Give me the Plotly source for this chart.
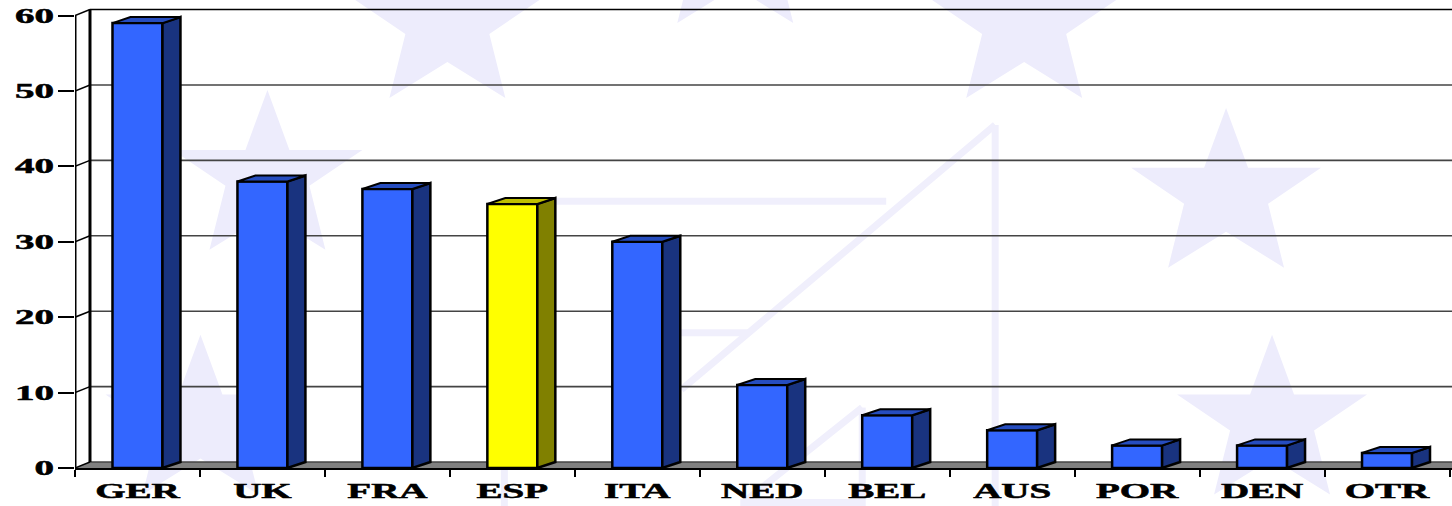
import plotly.graph_objects as go

# Chart values
categories = ["GER", "UK", "FRA", "ESP", "ITA", "NED", "BEL", "AUS", "POR", "DEN", "OTR"]
values = [59, 38, 37, 35, 30, 11, 7, 5, 3, 3, 2]
highlighted = "ESP"
y_ticks = [0, 10, 20, 30, 40, 50, 60]

# Face colours of the extruded columns: front, side, top
blue_faces = ("#3366ff", "#19337f", "#264dbf")
yellow_faces = ("#ffff00", "#808000", "#bfbf00")

# Page and plot geometry, in pixels
WIDTH, HEIGHT = 1452, 506
LEFT, BOTTOM, TOP = 74.5, 37.5, 7.95
CAT_PX = 125.0
UNIT_PX = 7.55
X_MIN, X_MAX = -0.5, (WIDTH - LEFT) / CAT_PX - 0.5
Y_MAX = 61

# Extrusion depth in axis units
WALL_DX = 15 / CAT_PX
BAR_DX = 18 / CAT_PX
DEPTH_DY = 6 / UNIT_PX
BAR_WIDTH = 0.4

plot_w = WIDTH - LEFT
plot_h = HEIGHT - TOP - BOTTOM


def px(x, y):
    """Page pixels to paper coordinates."""
    return (x - LEFT) / plot_w, (HEIGHT - BOTTOM - y) / plot_h


def poly_path(points):
    pts = [px(x, y) for x, y in points]
    return "M " + " L ".join(f"{a:.5f},{b:.5f}" for a, b in pts) + " Z"


# Pale watermark behind the chart: stars given as (centre x, tip y)
WATERMARK = "#edecfc"
stars = [(447, -62), (735, -137), (1024, -62), (267, 90), (1226, 108), (1272, 335), (200, 335)]
# Watermark strokes given as corner lists
strokes = [
    [(995, 125), (681, 390)],
    [(995, 125), (995, 520)],
    [(540, 201.5), (886, 201.5)],
    [(680, 333), (748, 333)],
    [(862, 408), (743, 503)],
    [(862, 408), (862, 520)],
    [(740, 503), (862, 503)],
    [(504, 468), (504, 520)],
]


def star_outline(cx, ty):
    return [
        (cx, ty), (cx + 22, ty + 60), (cx + 95, ty + 60), (cx + 42, ty + 96),
        (cx + 58, ty + 160), (cx, ty + 124), (cx - 58, ty + 160), (cx - 42, ty + 96),
        (cx - 95, ty + 60), (cx - 22, ty + 60),
    ]


shapes = []
for cx, ty in stars:
    shapes.append(dict(type="path", xref="paper", yref="paper", layer="below",
                       path=poly_path(star_outline(cx, ty)),
                       fillcolor=WATERMARK, line=dict(width=0)))
for pts in strokes:
    (x0, y0), (x1, y1) = pts
    a, b = px(x0, y0), px(x1, y1)
    shapes.append(dict(type="line", xref="paper", yref="paper", layer="below",
                       x0=a[0], y0=a[1], x1=b[0], y1=b[1],
                       line=dict(color="#f0effc", width=7)))

# Floor of the box
shapes.append(dict(type="path", xref="x", yref="y", layer="below",
                   path=f"M {X_MIN},0 L {X_MIN + WALL_DX},{DEPTH_DY} L {X_MAX},{DEPTH_DY} L {X_MAX},0 Z",
                   fillcolor="#808080", line=dict(width=0)))

# Back wall rules and the short connectors running to the front axis
for v in y_ticks:
    colour = "#000000" if v == y_ticks[-1] else "#444444"
    shapes.append(dict(type="line", xref="x", yref="y", layer="below",
                       x0=X_MIN + WALL_DX, x1=X_MAX, y0=v + DEPTH_DY, y1=v + DEPTH_DY,
                       line=dict(color=colour, width=1.6)))
    shapes.append(dict(type="line", xref="x", yref="y", layer="below",
                       x0=X_MIN, x1=X_MIN + WALL_DX, y0=v, y1=v + DEPTH_DY,
                       line=dict(color="#000000", width=1.5)))
shapes.append(dict(type="line", xref="x", yref="y", layer="below",
                   x0=X_MIN + WALL_DX, x1=X_MIN + WALL_DX, y0=DEPTH_DY, y1=y_ticks[-1] + DEPTH_DY,
                   line=dict(color="#000000", width=3)))

xs = list(range(len(categories)))
faces = [yellow_faces if c == highlighted else blue_faces for c in categories]

fig = go.Figure()

# Front faces
fig.add_trace(go.Bar(
    x=xs, y=values, width=BAR_WIDTH,
    marker=dict(color=[f[0] for f in faces], line=dict(color="#000000", width=2.5)),
    hoverinfo="skip", showlegend=False, cliponaxis=False,
))

# Side and top faces follow each column's value
for x, v, f in zip(xs, values, faces):
    right = x + BAR_WIDTH / 2
    left = x - BAR_WIDTH / 2
    fig.add_trace(go.Scatter(
        x=[right, right + BAR_DX, right + BAR_DX, right, right],
        y=[0, DEPTH_DY, v + DEPTH_DY, v, 0],
        mode="lines", fill="toself", fillcolor=f[1],
        line=dict(color="#000000", width=2.5),
        hoverinfo="skip", showlegend=False,
    ))
    fig.add_trace(go.Scatter(
        x=[left, left + BAR_DX, right + BAR_DX, right, left],
        y=[v, v + DEPTH_DY, v + DEPTH_DY, v, v],
        mode="lines", fill="toself", fillcolor=f[2],
        line=dict(color="#000000", width=2),
        hoverinfo="skip", showlegend=False,
    ))

# Front vertical axis stops at the top tick, so it is drawn as its own line
fig.add_trace(go.Scatter(
    x=[X_MIN, X_MIN], y=[0, y_ticks[-1]], mode="lines",
    line=dict(color="#000000", width=3),
    hoverinfo="skip", showlegend=False, cliponaxis=False,
))

tick_font = dict(family="Liberation Serif", size=20, color="#000000", weight=700)

fig.update_layout(
    width=WIDTH, height=HEIGHT,
    margin=dict(l=LEFT, r=0, t=TOP, b=BOTTOM, pad=0),
    paper_bgcolor="#ffffff",
    plot_bgcolor="rgba(0,0,0,0)",
    shapes=shapes,
    showlegend=False,
    xaxis=dict(
        range=[X_MIN, X_MAX], tickmode="array", tickvals=xs, ticktext=categories,
        ticks="", showgrid=False, zeroline=False,
        showline=True, linecolor="#000000", linewidth=2,
        tickfont=tick_font, ticklabelstandoff=4,
        minor=dict(tickmode="array", tickvals=[i - 0.5 for i in range(len(categories) + 1)],
                   ticks="outside", ticklen=7, tickwidth=2, tickcolor="#000000", showgrid=False),
    ),
    yaxis=dict(
        range=[0, Y_MAX], tickmode="array", tickvals=y_ticks, ticktext=[str(v) for v in y_ticks],
        ticks="outside", ticklen=16, tickwidth=1.5, tickcolor="#000000",
        showgrid=False, zeroline=False, showline=False,
        tickfont=tick_font,
    ),
)

# Widen the serif tick labels horizontally around their anchor points and thicken their strokes
stretch_labels = """
var gd = document.getElementById('{plot_id}');
gd.querySelectorAll('.xtick text, .ytick text').forEach(function (t) {
  var x = parseFloat(t.getAttribute('x')) || 0;
  var y = parseFloat(t.getAttribute('y')) || 0;
  var base = t.getAttribute('transform') || '';
  t.setAttribute('transform', base + ' translate(' + x + ',' + y + ') scale(1.95,1) translate(' + (-x) + ',' + (-y) + ')');
  t.style.stroke = '#000000';
  t.style.strokeWidth = '0.5px';
});
"""

fig.write_html("out.html", post_script=stretch_labels, config=dict(displayModeBar=False))
